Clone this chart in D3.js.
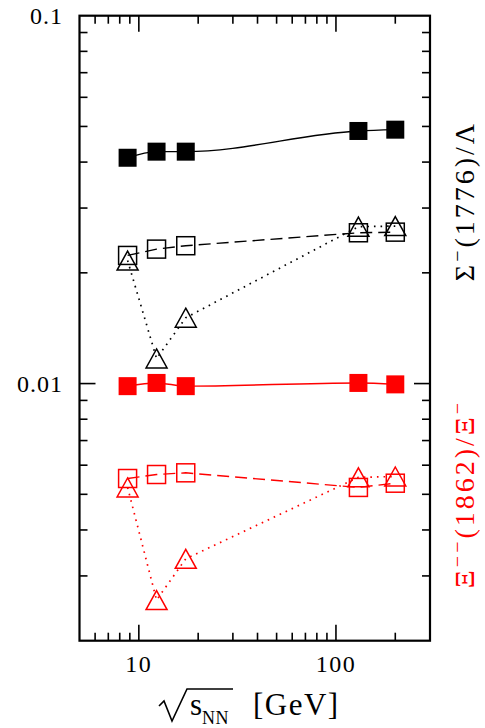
<!DOCTYPE html>
<html>
<head>
<meta charset="utf-8">
<script src="https://cdn.jsdelivr.net/npm/d3@7"></script>
<style>
  html, body { margin: 0; padding: 0; background: #fff; }
  svg { display: block; }
</style>
</head>
<body>
<svg id="chart" width="485" height="728"></svg>
<script>
// ---- data ----
const energies = [8.77, 12.3, 17.3, 130, 200];            // sqrt(s_NN) [GeV]
const sigmaFilled = [0.0411, 0.0427, 0.0427, 0.0486, 0.0490];
const sigmaOpenSq = [0.0223, 0.0232, 0.0237, 0.0257, 0.0258];
const sigmaTri    = [0.0216, 0.0117, 0.0151, 0.0267, 0.0268];
const xiFilled    = [0.00984, 0.01004, 0.00984, 0.01004, 0.00995];
const xiOpenSq    = [0.00552, 0.00566, 0.00572, 0.00522, 0.00536];
const xiTri       = [0.00522, 0.00258, 0.00334, 0.00556, 0.00559];
const xTickLabels = [10, 100];
const yTickLabels = [0.1, 0.01];

const FONT = "'Liberation Serif', 'DejaVu Serif', serif";

// ---- layout ----
const svg = d3.select("#chart");
const L = 79.5, R = 430, T = 15.7, B = 640.7;
const x = d3.scaleLog().domain([5, 300]).range([L, R]);
const y = d3.scaleLog().domain([0.002, 0.1]).range([B, T]);

const black = "#000", red = "#ff0000";

// ---- ticks ----
const xTicks = [];
[1, 10, 100].forEach(d => { for (let k = 1; k <= 9; k++) { const v = k * d; if (v > 5 && v < 300.5) xTicks.push(v); } });
const yTicks = [];
[0.001, 0.01].forEach(d => { for (let k = 1; k <= 9; k++) { const v = +(k * d).toPrecision(3); if (v > 0.002 && v < 0.1) yTicks.push(v); } });
const isMajor = v => Math.abs(Math.log10(v) - Math.round(Math.log10(v))) < 1e-6;

const tickG = svg.append("g").attr("stroke", black).attr("stroke-width", 1.6);
xTicks.forEach(v => {
  const len = isMajor(v) ? 16 : 8;
  tickG.append("line").attr("x1", x(v)).attr("x2", x(v)).attr("y1", B).attr("y2", B - len);
  tickG.append("line").attr("x1", x(v)).attr("x2", x(v)).attr("y1", T).attr("y2", T + len);
});
yTicks.forEach(v => {
  const len = isMajor(v) ? 16 : 8;
  tickG.append("line").attr("x1", L).attr("x2", L + len).attr("y1", y(v)).attr("y2", y(v));
  tickG.append("line").attr("x1", R).attr("x2", R - len).attr("y1", y(v)).attr("y2", y(v));
});

// frame
svg.append("rect").attr("x", L).attr("y", T).attr("width", R - L).attr("height", B - T)
  .attr("fill", "none").attr("stroke", black).attr("stroke-width", 2.2);

// tick labels
svg.selectAll(".xl").data(xTickLabels).enter().append("text")
  .attr("x", d => x(d)).attr("y", 672).attr("text-anchor", "middle")
  .attr("font-family", FONT).attr("font-size", 24).attr("letter-spacing", 1.5).text(d => d);
svg.selectAll(".yl").data(yTickLabels).enter().append("text")
  .attr("x", 63).attr("y", d => y(d) + 8).attr("text-anchor", "end")
  .attr("font-family", FONT).attr("font-size", 24).attr("letter-spacing", 1).text(d => d);

// ---- series ----
const plot = svg.append("g");
function series(vals, color, kind) {
  const pts = energies.map((e, i) => [x(e), y(vals[i])]);
  const line = kind === "filled" ? d3.line().curve(d3.curveMonotoneX) : d3.line();
  const p = plot.append("path").attr("d", line(pts)).attr("fill", "none")
    .attr("stroke", color).attr("stroke-width", 1.4);
  if (kind === "open") p.attr("stroke-dasharray", "12,6");
  if (kind === "tri") p.attr("stroke-dasharray", "1.6,5").attr("stroke-width", 1.7);

  const s = 18;
  if (kind === "filled") {
    plot.selectAll(null).data(pts).enter().append("rect")
      .attr("x", q => q[0] - s / 2).attr("y", q => q[1] - s / 2)
      .attr("width", s).attr("height", s).attr("fill", color);
  } else if (kind === "open") {
    plot.selectAll(null).data(pts).enter().append("rect")
      .attr("x", q => q[0] - s / 2).attr("y", q => q[1] - s / 2)
      .attr("width", s).attr("height", s).attr("fill", "none")
      .attr("stroke", color).attr("stroke-width", 1.5);
  } else {
    const w = 21, h = 19;
    plot.selectAll(null).data(pts).enter().append("path")
      .attr("d", q => `M${q[0]},${q[1] - h / 2}L${q[0] + w / 2},${q[1] + h / 2}L${q[0] - w / 2},${q[1] + h / 2}Z`)
      .attr("fill", "none").attr("stroke", color).attr("stroke-width", 1.5);
  }
}
series(sigmaOpenSq, black, "open");
series(sigmaTri, black, "tri");
series(sigmaFilled, black, "filled");
series(xiOpenSq, red, "open");
series(xiTri, red, "tri");
series(xiFilled, red, "filled");

// ---- x-axis title: sqrt(s_NN) [GeV] ----
const xt = svg.append("g");
xt.append("path").attr("d", "M159,706 L164,701 L172,721 L187,689 L233,689")
  .attr("fill", "none").attr("stroke", black).attr("stroke-width", 1.6).attr("stroke-linejoin", "miter");
const xtt = xt.append("text").attr("x", 190).attr("y", 715).attr("font-family", FONT).attr("font-size", 31);
xtt.append("tspan").text("s");
xtt.append("tspan").attr("font-size", 18).attr("dy", 9).attr("letter-spacing", 0.5).text("NN");
xt.append("text").attr("x", 253).attr("y", 715).attr("font-family", FONT).attr("font-size", 31)
  .attr("letter-spacing", 1.5).text("[GeV]");

// ---- right-side rotated labels ----
function rlabel(cx, cy, color, parts) {
  const t = svg.append("text").attr("transform", `translate(${cx},${cy}) rotate(-90)`)
    .attr("text-anchor", "middle").attr("font-family", FONT).attr("font-size", 28)
    .attr("letter-spacing", 3).attr("fill", color);
  parts.forEach(p => {
    const ts = t.append("tspan").text(p.t);
    if (p.sup) ts.attr("font-size", 20).attr("dy", -10);
    if (p.back) ts.attr("dy", 10);
  });
}
rlabel(474, 201, black, [{t: "\u03A3"}, {t: "\u2212", sup: true}, {t: "(1776)/\u039B", back: true}]);
rlabel(474, 494, red, [{t: "\u039E"}, {t: "\u2212\u2212", sup: true}, {t: "(1862)/\u039E", back: true}, {t: "\u2212", sup: true}]);
</script>
</body>
</html>
